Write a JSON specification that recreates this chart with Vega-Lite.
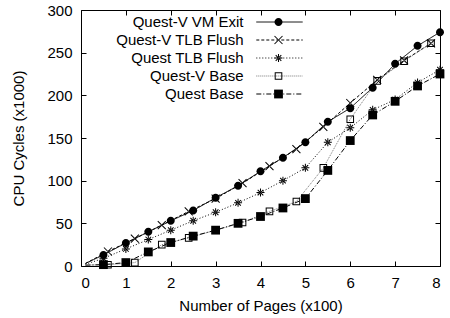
{
  "$schema": "https://vega.github.io/schema/vega-lite/v6.json",
  "width": 359,
  "height": 256,
  "autosize": "none",
  "padding": {"left": 81, "top": 10, "right": 10, "bottom": 52},
  "config": {
    "font": "Liberation Sans",
    "view": {"stroke": "black", "strokeWidth": 1},
    "axis": {"grid": false, "domain": false, "tickColor": "black", "tickSize": -5, "labelColor": "black", "titleColor": "black", "labelFontSize": 15, "titleFontSize": 15, "titleFontWeight": "normal", "labelFont": "Liberation Sans", "titleFont": "Liberation Sans"},
    "legend": {"labelFont": "Liberation Sans", "labelFontSize": 15, "labelColor": "black"}
  },
  "data": {"values": [
    {"x": 0.1, "y": 3, "series": "Quest-V VM Exit"},
    {"x": 0.5, "y": 13, "series": "Quest-V VM Exit"},
    {"x": 1.0, "y": 27, "series": "Quest-V VM Exit"},
    {"x": 1.5, "y": 40, "series": "Quest-V VM Exit"},
    {"x": 2.0, "y": 53, "series": "Quest-V VM Exit"},
    {"x": 2.5, "y": 65, "series": "Quest-V VM Exit"},
    {"x": 3.0, "y": 80, "series": "Quest-V VM Exit"},
    {"x": 3.5, "y": 94, "series": "Quest-V VM Exit"},
    {"x": 4.0, "y": 111, "series": "Quest-V VM Exit"},
    {"x": 4.5, "y": 127, "series": "Quest-V VM Exit"},
    {"x": 5.0, "y": 145, "series": "Quest-V VM Exit"},
    {"x": 5.5, "y": 169, "series": "Quest-V VM Exit"},
    {"x": 6.0, "y": 185, "series": "Quest-V VM Exit"},
    {"x": 6.5, "y": 209, "series": "Quest-V VM Exit"},
    {"x": 7.0, "y": 237, "series": "Quest-V VM Exit"},
    {"x": 7.5, "y": 258, "series": "Quest-V VM Exit"},
    {"x": 8.0, "y": 274, "series": "Quest-V VM Exit"},
    {"x": 0.1, "y": 3, "series": "Quest-V TLB Flush"},
    {"x": 0.6, "y": 17, "series": "Quest-V TLB Flush"},
    {"x": 1.2, "y": 32, "series": "Quest-V TLB Flush"},
    {"x": 1.8, "y": 48, "series": "Quest-V TLB Flush"},
    {"x": 2.4, "y": 64, "series": "Quest-V TLB Flush"},
    {"x": 3.0, "y": 79, "series": "Quest-V TLB Flush"},
    {"x": 3.6, "y": 97, "series": "Quest-V TLB Flush"},
    {"x": 4.2, "y": 117, "series": "Quest-V TLB Flush"},
    {"x": 4.8, "y": 137, "series": "Quest-V TLB Flush"},
    {"x": 5.4, "y": 163, "series": "Quest-V TLB Flush"},
    {"x": 6.0, "y": 191, "series": "Quest-V TLB Flush"},
    {"x": 6.6, "y": 218, "series": "Quest-V TLB Flush"},
    {"x": 7.2, "y": 241, "series": "Quest-V TLB Flush"},
    {"x": 7.8, "y": 261, "series": "Quest-V TLB Flush"},
    {"x": 0.1, "y": 2, "series": "Quest TLB Flush"},
    {"x": 0.5, "y": 9, "series": "Quest TLB Flush"},
    {"x": 1.0, "y": 20, "series": "Quest TLB Flush"},
    {"x": 1.5, "y": 31, "series": "Quest TLB Flush"},
    {"x": 2.0, "y": 42, "series": "Quest TLB Flush"},
    {"x": 2.5, "y": 53, "series": "Quest TLB Flush"},
    {"x": 3.0, "y": 63, "series": "Quest TLB Flush"},
    {"x": 3.5, "y": 74, "series": "Quest TLB Flush"},
    {"x": 4.0, "y": 86, "series": "Quest TLB Flush"},
    {"x": 4.5, "y": 100, "series": "Quest TLB Flush"},
    {"x": 5.0, "y": 115, "series": "Quest TLB Flush"},
    {"x": 5.5, "y": 145, "series": "Quest TLB Flush"},
    {"x": 6.0, "y": 162, "series": "Quest TLB Flush"},
    {"x": 6.5, "y": 183, "series": "Quest TLB Flush"},
    {"x": 7.0, "y": 195, "series": "Quest TLB Flush"},
    {"x": 7.5, "y": 215, "series": "Quest TLB Flush"},
    {"x": 8.0, "y": 230, "series": "Quest TLB Flush"},
    {"x": 0.1, "y": 1, "series": "Quest-V Base"},
    {"x": 0.6, "y": 1.5, "series": "Quest-V Base"},
    {"x": 1.2, "y": 4, "series": "Quest-V Base"},
    {"x": 1.8, "y": 25, "series": "Quest-V Base"},
    {"x": 2.4, "y": 33, "series": "Quest-V Base"},
    {"x": 3.0, "y": 42, "series": "Quest-V Base"},
    {"x": 3.6, "y": 51, "series": "Quest-V Base"},
    {"x": 4.2, "y": 64, "series": "Quest-V Base"},
    {"x": 4.8, "y": 75.5, "series": "Quest-V Base"},
    {"x": 5.4, "y": 115, "series": "Quest-V Base"},
    {"x": 6.0, "y": 172, "series": "Quest-V Base"},
    {"x": 6.6, "y": 217, "series": "Quest-V Base"},
    {"x": 7.2, "y": 240, "series": "Quest-V Base"},
    {"x": 7.8, "y": 261, "series": "Quest-V Base"},
    {"x": 0.1, "y": 1, "series": "Quest Base"},
    {"x": 0.5, "y": 1.6, "series": "Quest Base"},
    {"x": 1.0, "y": 4, "series": "Quest Base"},
    {"x": 1.5, "y": 16.5, "series": "Quest Base"},
    {"x": 2.0, "y": 27.5, "series": "Quest Base"},
    {"x": 2.5, "y": 35, "series": "Quest Base"},
    {"x": 3.0, "y": 42, "series": "Quest Base"},
    {"x": 3.5, "y": 50, "series": "Quest Base"},
    {"x": 4.0, "y": 58, "series": "Quest Base"},
    {"x": 4.5, "y": 68, "series": "Quest Base"},
    {"x": 5.0, "y": 79, "series": "Quest Base"},
    {"x": 5.5, "y": 112, "series": "Quest Base"},
    {"x": 6.0, "y": 147, "series": "Quest Base"},
    {"x": 6.5, "y": 177, "series": "Quest Base"},
    {"x": 7.0, "y": 193, "series": "Quest Base"},
    {"x": 7.5, "y": 211, "series": "Quest Base"},
    {"x": 8.0, "y": 225, "series": "Quest Base"}
  ]},
  "layer": [
    {
      "mark": {"type": "line", "strokeWidth": 1, "clip": true},
      "encoding": {
        "x": {"field": "x", "type": "quantitative", "scale": {"domain": [0, 8], "nice": false},
              "axis": {"orient": "bottom", "values": [0,1,2,3,4,5,6,7,8], "title": "Number of Pages (x100)", "labelPadding": 14, "titlePadding": 8}},
        "y": {"field": "y", "type": "quantitative", "scale": {"domain": [0, 300], "nice": false},
              "axis": {"orient": "left", "values": [0,50,100,150,200,250,300], "title": "CPU Cycles (x1000)", "labelPadding": 14, "titlePadding": 20}},
        "detail": {"field": "series"},
        "stroke": {"field": "series", "type": "nominal",
                   "scale": {"domain": ["Quest-V VM Exit", "Quest-V TLB Flush", "Quest TLB Flush", "Quest-V Base", "Quest Base"],
                             "range": ["black", "black", "black", "#777777", "black"]},
                   "legend": {"orient": "none", "legendX": 191, "legendY": 4.5, "title": null, "symbolType": "M-5.8,0L5.8,0", "symbolSize": 64, "symbolStrokeWidth": 1, "labelAlign": "right", "labelOffset": -43.5, "padding": 0}},
        "strokeDash": {"field": "series", "type": "nominal",
                   "scale": {"domain": ["Quest-V VM Exit", "Quest-V TLB Flush", "Quest TLB Flush", "Quest-V Base", "Quest Base"],
                             "range": [[1, 0], [3, 2], [1, 2], [1, 1], [5, 2, 1, 2]]},
                   "legend": {"orient": "none", "legendX": 191, "legendY": 4.5, "title": null, "symbolType": "M-5.8,0L5.8,0", "symbolSize": 64, "symbolStrokeWidth": 1, "labelAlign": "right", "labelOffset": -43.5, "padding": 0}}
      }
    },
    {
      "transform": [{"filter": "datum.x > 0.2"}],
      "mark": {"type": "point", "filled": true, "fill": "black", "strokeWidth": 0, "size": 64, "opacity": 1},
      "encoding": {
        "x": {"field": "x", "type": "quantitative", "axis": {"orient": "top", "values": [0,1,2,3,4,5,6,7,8], "labels": false, "title": null}},
        "y": {"field": "y", "type": "quantitative", "axis": {"orient": "right", "values": [0,50,100,150,200,250,300], "labels": false, "title": null}},
        "shape": {"field": "series", "type": "nominal",
                  "sort": ["Quest-V VM Exit", "Quest-V TLB Flush", "Quest TLB Flush", "Quest-V Base", "Quest Base"],
                  "scale": {"range": [
                    "M-1,0A1,1,0,1,0,1,0A1,1,0,1,0,-1,0Z",
                    "M-0.912,-1.088L1.088,0.912L0.912,1.088L-1.088,-0.912Z M-0.912,1.088L1.088,-0.912L0.912,-1.088L-1.088,0.912Z",
                    "M-1,-0.125L1,-0.125L1,0.125L-1,0.125Z M-0.125,-1L0.125,-1L0.125,1L-0.125,1Z M-0.612,-0.788L0.788,0.612L0.612,0.788L-0.788,-0.612Z M-0.612,0.788L0.788,-0.612L0.612,-0.788L-0.788,0.612Z",
                    "M-0.95,-0.95L0.95,-0.95L0.95,0.95L-0.95,0.95Z M-0.7,-0.7L-0.7,0.7L0.7,0.7L0.7,-0.7Z",
                    "M-1.1,-1.1L1.1,-1.1L1.1,1.1L-1.1,1.1Z"]},
                  "legend": {"orient": "none", "legendX": 190, "legendY": 4.5, "title": null, "symbolSize": 64, "symbolFillColor": "black", "symbolStrokeWidth": 0, "labelColor": "transparent", "padding": 0}}
      }
    }
  ],
  "resolve": {"axis": {"x": "independent", "y": "independent"}}
}
